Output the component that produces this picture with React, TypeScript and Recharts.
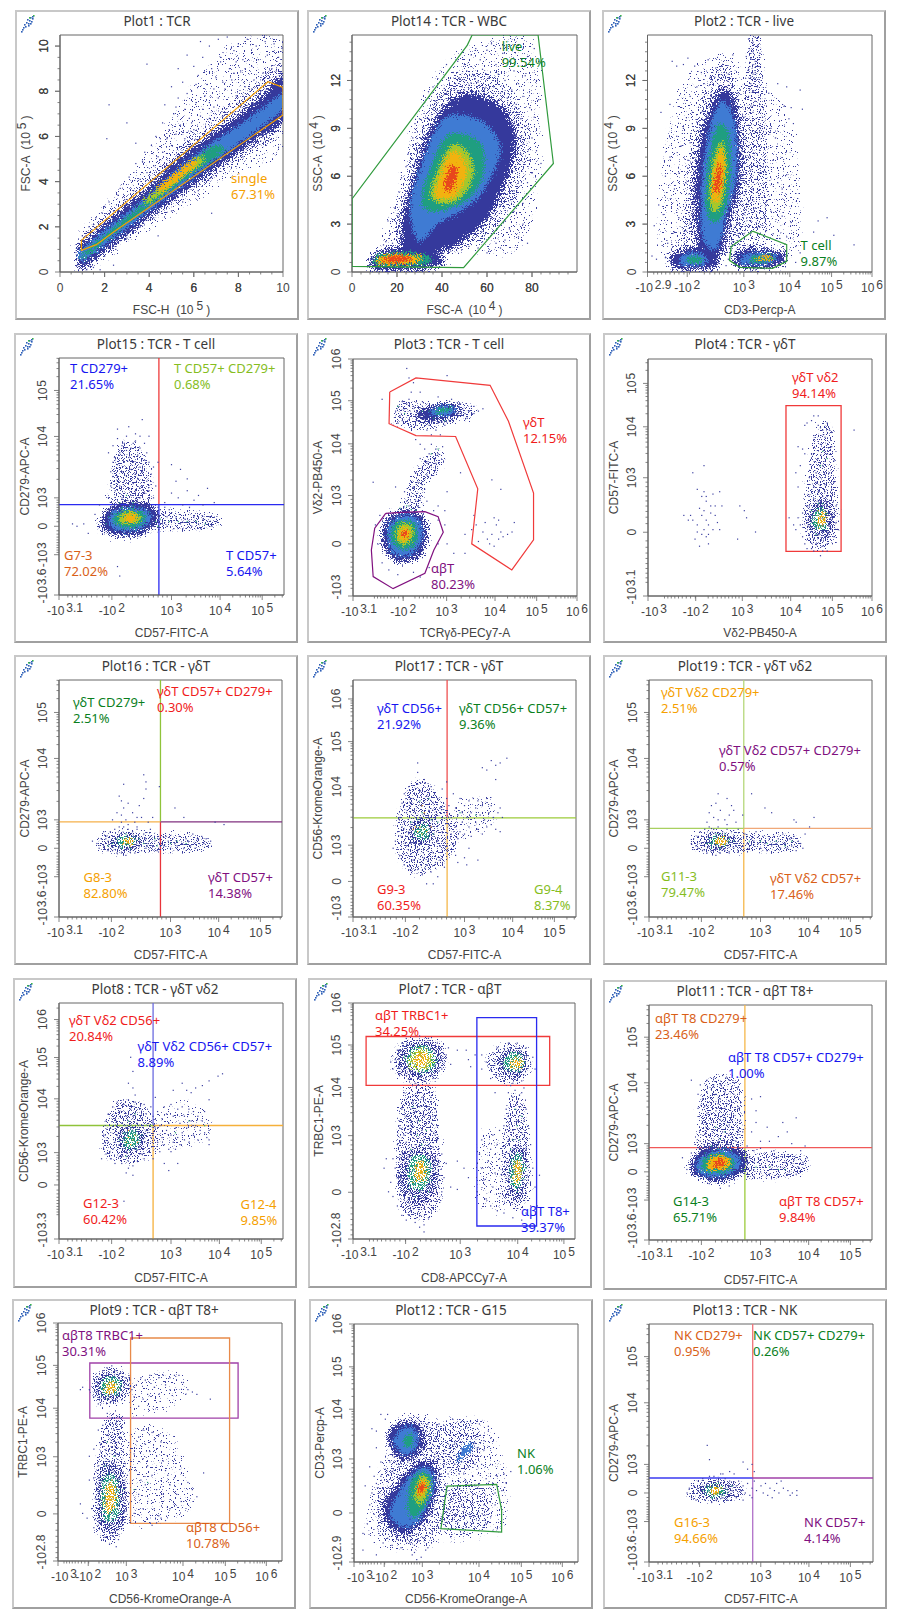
import React from 'react';
import { ScatterChart, Scatter, XAxis, YAxis, ReferenceLine, ReferenceArea } from 'recharts';

// ---- colours of the density scale: dark, blue, teal, yellow-green, amber, red, veil, thin veil
const HEAT = ['#35399c', '#3f7bd3', '#1f9e80', '#a5c72c', '#f2b20f', '#e8481c', '#383c9e', '#383c9e'];
const C = { blue: '#1616f0', green: '#0a7f1e', lime: '#86bd1e', red: '#f01c1c', purple: '#80107f', orange: '#f5a000', rust: '#d95f18' };

// ---- tick labels on channel scales: [channel, base, exponent]
const xCD57 = [[0, '-10', '3.1'], [23.5, '-10', '2'], [50, '10', '3'], [71.6, '10', '4'], [90.3, '10', '5']];
const yCD279 = [[0, '-10', '3.6'], [17, '-10', '3'], [29, '0'], [41, '10', '3'], [66.9, '10', '4'], [86.3, '10', '5']];
const xCD3 = [[0, '-10', '2.9'], [17.7, '-10', '2'], [42.9, '10', '3'], [63.4, '10', '4'], [82, '10', '5'], [100, '10', '6']];
const xTCR = [[0, '-10', '3.1'], [22.4, '-10', '2'], [41.8, '10', '3'], [63.4, '10', '4'], [82, '10', '5'], [100, '10', '6']];
const yVd2 = [[0, '-10', '3'], [22, '0'], [42.4, '10', '3'], [64.2, '10', '4'], [82.4, '10', '5'], [100, '10', '6']];
const xVd2 = [[0, '-10', '3'], [21.3, '-10', '2'], [42.1, '10', '3'], [63.7, '10', '4'], [82.3, '10', '5'], [100, '10', '6']];
const yFITC = [[0, '-10', '3.1'], [26.9, '0'], [49.9, '10', '3'], [71.4, '10', '4'], [89.7, '10', '5']];
const yCD56a = [[0, '-10', '3'], [15, '0'], [30.3, '10', '3'], [55, '10', '4'], [74, '10', '5'], [92, '10', '6']];
const yCD56b = [[0, '-10', '3.3'], [22.9, '0'], [36.6, '10', '3'], [59.4, '10', '4'], [76.9, '10', '5'], [93, '10', '6']];
const xCD8 = [[0, '-10', '3.1'], [23.7, '-10', '2'], [48.3, '10', '3'], [74.2, '10', '4'], [95, '10', '5']];
const yTRBC = [[0, '-10', '2.8'], [19.8, '0'], [43.8, '10', '3'], [64.2, '10', '4'], [82.2, '10', '5'], [100, '10', '6']];
const xCD56 = [[0, '-10', '3'], [13.5, '-10', '2'], [30.5, '10', '3'], [55.8, '10', '4'], [74.7, '10', '5'], [93, '10', '6']];
const yCD3 = [[0, '-10', '2.9'], [20.6, '0'], [43.3, '10', '3'], [64.2, '10', '4'], [82, '10', '5'], [100, '10', '6']];
const lin10 = [[0, '0'], [2, '2'], [4, '4'], [6, '6'], [8, '8'], [10, '10']];
const xFSC = [[0, '0'], [20, '20'], [40, '40'], [60, '60'], [80, '80']];
const ySSC = [[0, '0'], [3, '3'], [6, '6'], [9, '9'], [12, '12']];

// ---- Plot1
const p1Clouds = [
  [7, [.85,0, .85,1.7, 2,3, 3.5,4.7, 5,6.8, 6.5,8.9, 8,10.2, 10,10.45, 10,5.6, 8,4.4, 6,3.1, 4,1.9, 2,.5, 1.2,0]],
  [6, [.85,.1, .85,1.4, 2,2.5, 3.5,3.9, 5,5.3, 6.5,6.6, 8,7.8, 10,9.2, 10,6.4, 8,4.95, 6,3.6, 4,2.2, 2,.75, 1.2,.15]],
  [0, [0.85,0.2, 0.85,1.1, 1.5,1.7, 3,2.95, 4,3.8, 5,4.75, 6,5.55, 7,6.25, 8,6.95, 9,7.75, 10,8.7, 10,6.75, 9,6, 8,5.3, 7,4.6, 6,3.9, 5,3.15, 4,2.45, 3,1.65, 2,.95, 1.2,.35]],
  [1, [.9,.5, .9,.98, 2,1.85, 3,2.6, 4,3.45, 5,4.35, 6,5.15, 7,5.85, 8,6.5, 9,7.2, 10,7.9, 10,7.2, 9,6.4, 8,5.65, 7,4.95, 6,4.2, 5,3.45, 4,2.7, 3,1.95, 2,1.2, 1.2,.58]],
  [2, [.95,.72, 2,1.62, 3,2.42, 4,3.27, 5,4.17, 6,4.97, 7,5.62, 7.3,5.3, 6,4.4, 5,3.65, 4,2.92, 3,2.17, 2,1.4, 1.2,.7]],
  [3, [3.8,3.2, 4.8,4.05, 5.5,4.6, 6.3,5.1, 6.4,4.85, 5.6,4.25, 4.9,3.7, 4,3.1]],
  [4, [4.4,3.72, 5.2,4.4, 5.95,4.9, 6.05,4.7, 5.4,4.15, 4.6,3.6]],
];
const p1Dots = [1,1.6,1.3,2,1.6,2.4,1.9,2.6,2.2,3.1,2.4,2.7,2.7,3.7,2.9,3.2,3.1,4.2,3.3,3.6,3.4,4.8,3.6,4.1,3.8,5.3,3.9,4.4,4.1,5.6,4.2,4.7,4.3,6,4.4,5.1,4.6,6.6,4.6,5.3,4.7,7.4,4.8,5.9,4.9,6.3,5,8.2,5,5.6,5.1,7,5.2,6.1,5.3,9,5.3,7.7,5.4,6.5,5.5,8.4,5.6,5.9,5.6,7.2,5.7,9.6,5.8,6.8,5.9,8,6,9.1,6,6.3,6.1,7.5,6.2,8.7,6.3,10.2,6.3,6.9,6.4,9.5,6.5,7.8,6.6,8.3,6.7,10,6.7,6.8,6.8,9,6.9,7.3,7,8.6,7.1,10.3,7.1,7.7,7.2,9.5,7.3,6.9,7.4,8.1,7.5,10.4,7.6,9,7.6,7.4,7.7,8.5,7.8,9.8,7.9,7.8,8,10.1,8.1,8.9,8.1,7.3,8.2,9.4,8.3,8.2,8.4,10.3,8.5,7.7,8.6,9.1,8.7,8.5,8.8,10,8.9,9.4,9,8,9.1,8.8,9.2,10.2,9.3,9.6,9.4,8.6,9.5,9,9.6,10.1,9.7,8.9,9.8,9.5,9.9,8.8,9.95,9.9,3.9,9.2,2.2,7.4,2.1,5.9,3,6.6,3.4,5.7,1.2,.1,1.5,.2,2,.7,2.5,1,3,1.5,3.6,2,4.2,2.4,5,2.7,5.5,3.1,6.2,3.6,6.8,2.6,6.8,4.2,7.5,4.8,8.2,5.1,9,5.8,9.5,6.3,2.4,.3,1.8,.1,4.4,1.6,7.2,9.3,5.9,6.6,6.4,7.2,5.2,7.3,4.5,5.9,3.7,4.9,2.6,3.4,2,2.9,1.5,2.1,6.9,8.1,7.3,8.4,7.8,8.8,8.3,9,6.1,8.3,5.7,7.9,6.7,7.5,7.9,9.3,8.6,8.1];

// ---- Plot14
const p14Clouds = [
  [7, [14,1.5, 20,5, 30,10.5, 45,13.6, 62,14.6, 80,14.6, 84,8, 80,3.5, 72,1.2, 50,1.2, 32,1]],
  [6, [19,2, 24,6, 33,10, 45,12.3, 58,12.6, 72,11.2, 78,8, 73,4.5, 63,2.5, 50,1.5, 32,1]],
  [0, [22,3, 28,6.3, 36,9.3, 45,10.9, 56,11.1, 69,10, 73,8, 68,5.5, 60,3.3, 50,2, 38,1.2, 24,1.2]],
  [1, [26,4.3, 32,7.2, 40,9.5, 50,9.8, 60,9.2, 66,7.6, 58,5, 48,3.8, 38,3, 32,2, 28,2.2]],
  [2, [31,4.5, 35,6.6, 42,8.5, 50,8.6, 58,7.9, 58,6, 52,4.6, 42,3.9, 35,3.8]],
  [3, [35,4.8, 39,6.7, 45,8, 52,7.4, 54,6, 48,4.6, 41,4.3]],
  [4, [37,5, 42,7.1, 47,7.5, 51,6.3, 46,4.8, 40,4.6]],
  [5, [41,5.4, 44,6.7, 47,6.3, 44,5.1]],
  [0, [10,.15, 9.5,1.1, 20,1.5, 36,1.2, 41,.6, 30,.15]],
  [2, [11,.45, 11.5,1, 22,1.25, 35,.95, 31,.45]],
  [4, [12,.55, 13,.95, 20,1.1, 31,.95, 27,.55]],
  [5, [14,.62, 15,.9, 22,1.02, 27,.85, 22,.62]],
];
const p14Dots = [18,1.8,20,2.6,21,3.5,22,2,23,4.3,24,3,25,5,26,5.8,27,4.2,28,6.9,29,7.6,30,6.2,31,8.3,32,9,33,7.8,34,9.6,35,8.9,36,10.2,37,10.7,38,9.9,39,11,40,10.4,41,11.5,42,11.2,43,12,44,11.4,45,12.5,46,11.8,47,13.2,48,12.1,49,11.6,50,13,51,12.6,52,11.7,53,13.6,54,12.3,55,14,56,11.9,57,13.3,58,12.7,59,11.5,60,13.9,61,12.2,62,14.3,63,11.6,64,13,65,12.4,66,11.2,67,13.7,68,12,69,10.9,70,13.2,71,11.4,72,12.6,73,10.5,74,11.8,75,9.6,76,11,77,12.3,78,9,79,10.3,80,8.4,81,9.7,82,7.6,83,10.8,84,6.8,70,6,72,5.1,74,6.8,76,4.3,78,5.6,80,6.2,66,4.2,68,3.2,70,2.7,72,3.8,74,2.2,76,3,78,1.8,62,2.4,64,1.8,66,1.5,68,2,58,1.9,60,1.2,56,1.5,52,1.6,54,2.6,82,12,83,13.2,81,14,78,13.5,74,14.2,66,14,61,11,76,8,79,7,75,7.4,71,9.2,24,6.6,21,5,19,4,17,2.4,15,1.9,27,8.4,30,9.6,33,10.8,16,3.2,22,5.9,25,7.4,14,1.7,28,9.3,36,11.6,34,11.3,42,13,50,11.4];

// ---- Plot2
const p2Clouds = [
  [7, [6,1, 7,7, 16,11.8, 30,13.6, 42,13, 62,10, 68,5, 66,1.2, 40,1, 20,1]],
  [6, [43,5, 44,13, 46,14.8, 50,14.8, 52,10, 54,4, 48,2]],
  [6, [17,1.5, 17,5, 20,9, 27,12, 35,13, 43,10, 44,5, 40,1.5]],
  [0, [23,1.5, 21,4, 22,7, 27,10, 34,11.5, 40,10.1, 41.5,6, 37,3.5, 33,1.2, 28,1]],
  [1, [25,2, 24,5, 27,8.5, 33,10.7, 39,9.3, 39.5,6, 35,3.5, 31,1.5]],
  [2, [26,4.2, 27,6.8, 31,9.1, 36,8.7, 37,6, 34,3.7, 29,3.1]],
  [3, [27.6,4.4, 29,6.7, 33,8.2, 35.2,6.6, 33,4.3, 30,3.8]],
  [4, [28.6,4.7, 30,6.7, 33,7.8, 34.4,6.6, 32,4.5]],
  [5, [29.6,5.1, 31,6.4, 32.8,6.7, 32.4,5.2]],
  [0, [11,.3, 11,1.1, 20,1.5, 30,1.3, 31,.35, 22,.15]],
  [1, [15,.5, 16,1.1, 24,1.15, 27,.6, 22,.4]],
  [2, [18,.6, 18,.95, 24,.95, 24,.6]],
  [0, [40,.35, 39,1.1, 45,1.45, 58,1.3, 62,.9, 58,.4, 50,.22]],
  [1, [42,.55, 43,1.05, 52,1.2, 58,.9, 53,.5]],
  [2, [46,.65, 46,.95, 54,1.05, 56,.8, 52,.6]],
  [4, [49,.75, 50,.95, 54,1, 55,.8]],
];
const p2Dots = [45,14.6,47,14.4,48,14.7,49,14.2,47,13.8,46,13.4,48,13.2,49,12.9,45,12.7,47,12.4,48,12.1,46,11.8,49,11.6,47,11.3,45,11,48,10.7,46,10.4,47,13,48,12.5,46,12.2,44,13.5,50,13.7,47,10,43,9.7,45,9.2,48,8.8,44,8.4,47,8,42,7.6,45,7.2,43,6.8,46,6.4,42,6,44,5.6,47,5.2,43,4.8,45,4.4,48,4,43,3.6,46,3.2,50,2.8,53,2.6,56,2.4,59,2.1,41,3,43,2.4,48,5.8,52,7,50,6.2,55,9,57,8.4,58,5.6,60,5.2,62,6.1,56,7,53,4.4,52,3.4,55,3.8,60,3.5,62,2.2,63,9.6,64,10.3,61,10.4,54,11.2,58,11.8,62,11.6,68,11.4,69,10.2,65,9.3,18,7,17,5.6,16,9,15,7.9,14,6.2,13,8.5,12,5.2,10,7.2,8,6,7,3.6,6,10,20,10,19,11,22,11.6,24,12.5,21,12.9,27,13.3,18,13.4,13,12.9,11,13.2,16,13,10,10.5,5,4.2,3,2.9,2,1,4,.8,8,.9,9,1.8,12,2.5,14,3.4,17,2.6,19,3,21,2.3,20,9.3,19,8.1,25,11.8,30,12.2,33,12.9,36,12.4,38,13.6,28,12.2,40,11.2,80,3.4,83,2.3,92,1.7,76,3.2,74,2.5,64,3.1,66,1.6,68,1.2,66,.6,35,2.4,38,1.9,37,1.3,36,.8,35,.4];

// ---- Plot15
const p15Clouds = [
  [6, [24,36, 23,50, 27,64, 36,62, 41,50, 39,37]],
  [6, [24,36, 25,46, 30,52, 37,50, 40,42, 39,36]],
  [6, [42,28, 42,35, 60,35, 71,33, 70,29, 58,27]],
  [0, [20,27, 19,32, 24,37.5, 33,39, 41,38, 44,33, 40,27, 30,25]],
  [1, [23,29, 23,34, 30,37, 38,36, 41,32, 36,28, 28,27]],
  [2, [25,30, 25,34, 32,36, 38,34, 37,30, 31,28.5]],
  [3, [27,30.6, 28,34.2, 33,35, 36.4,32.5, 33,30]],
  [4, [29,31.2, 30,33.9, 33,34.2, 34.6,32, 32,30.8]],
];
const p15Dots = [26,38,28,41,25,44,30,39,32,42,27,46,34,44,29,48,36,41,31,45,38,43,33,47,24,50,35,49,28,52,37,46,30,50,39,48,26,55,32,53,34,51,36,54,40,44,29,56,25,58,31,58,27,60,33,56,35,59,38,57,37,52,41,51,30,61,23,52,23,46,22,41,24,56,28,63,32,62,34,65,36,62,26,66,30,67,33,64,39,60,26,70,29,64,36,67,31,71,34,68,38,64,24,63,22,60,40,56,42,54,43,46,42,41,28,35,47,39,50,43,53,41,49,36,55,38,57,44,60,40,52,48,58,37,62,42,66,45,64,38,69,39,57,49,54,53,50,55,37,74,40,67,44,56,46,34,48,33,50,31,52,33,54,30,56,32,58,31,60,33,62,30,64,32,66,31,68,29,70,31,46,30,48,29,51,28,55,28,59,29,63,28,67,33,18,29,16,34,13,26,8,29,6,30,11,30,18,38,26,12,27,8,35,36,42,37,44,37,45,36,47,37];
const p15Mid = [45,32,49,31,53,31,57,31,61,31,65,30,28,37,33,37.5,36,37,40,35,21,30,22,33,43,31,44,29,30,42,33,39,27,39];

// ---- Plot3
const p3Clouds = [
  [6, [18,75, 22,82, 32,81, 44,81, 54,80, 52,75, 40,72, 28,70]],
  [0, [28,77, 34,80, 44,81, 48,78, 42,75, 32,74]],
  [1, [34,77, 38,80, 44,80, 46,78, 40,76]],
  [2, [36,77.5, 40,79.5, 44,79.5, 42,77.5]],
  [6, [22,36, 24,44, 30,56, 38,62, 40,56, 32,46, 30,36]],
  [0, [13.5,22, 14,31, 20,35.5, 29,35, 33,28, 31,18, 24,14.5, 17,16]],
  [1, [15.5,23, 16,30, 21,33.5, 28,33, 31,27, 29,20, 24,17, 18,18]],
  [2, [17,25, 18,30, 22,32, 27,31, 29,26, 27,21, 23,19.5, 19,21]],
  [3, [19,25, 20,29, 23,30.5, 26,29.5, 27,26, 25,22.5, 22,21.5]],
  [4, [20.5,25.5, 21.5,28.5, 24,29, 25.5,27, 24.5,23.5, 22,23]],
  [5, [21.8,25.5, 23,27.5, 24.5,26.5, 23.5,24.5]],
];
const p3Dots = [20,80,22,82,24,81,19,78,21,76,23,79,25,83,26,77,27,80,29,74,28,72,30,76,31,82,33,70,32,75,34,72,35,68,36,74,37,70,38,73,39,68,41,72,40,75,43,74,45,78,47,76,49,79,50,77,52,78,54,77,56,78,58,79,54,80,51,75,48,81,44,83,38,84,30,86,26,86,25,92,24,96,27,90,42,93,13,83,18,72,20,73,22,74,28,66,30,64,32,62,34,60,36,58,37,62,38,60,40,63,35,64,33,56,35,55,37,56,30,58,31,54,33,51,28,52,29,48,31,47,27,46,32,45,26,42,28,40,30,42,24,40,25,38,27,37,29,38,31,36,23,44,19,46,9,48,22,36,33,40,38,38,42,44,48,52,41,36,41,30,38,32,36,36,38,22,42,22,45,18,30,8,27,10,20,9,16,11,13,14,11,22,10,30,12,34,50,18,34,12,54,34,62,49,66,45,50,26,53,28,55,30,58,27,60,24,61,22,62,26,63,21,64,30,65,24,66,27,67,25,69,26,71,27,72,31,59,31,63,33,65,32,56,23];
const p3Mid = [24,38,26,36.5,21,37,28,36,34,78,36,75,41,74,43,79,31,78,20,80,23,77,38,62,35,60];

// ---- Plot4
const p4Clouds = [
  [6, [70,24, 70,38, 72,56, 76,72, 82,70, 84,46, 84,24, 78,20]],
  [0, [72,27, 72,36, 76,41, 81,40, 83,33, 81,25, 77,24]],
  [2, [74,29, 74,35, 78,37, 80,33, 79,28]],
  [4, [76,30, 76,34, 79,35, 79,30]],
];
const p4Dots = [66,28,67,33,68,30,69,25,69,35,70,22,71,31,71,38,72,26,72,42,73,20,73,34,74,46,74,24,75,36,75,52,75,22,76,40,76,58,76,26,77,47,77,64,78,21,78,55,78,30,79,44,79,67,79,25,80,60,80,38,80,22,81,52,81,70,81,27,82,45,82,63,82,34,83,25,83,48,84,31,84,38,85,28,67,46,68,55,69,62,70,60,70,72,71,73,72,50,73,60,74,66,73,74,74,76,76,72,77,71,78,70,80,73,82,69,76,76,66,52,67,63,65,30,63,33,83,57,77,17,78,19,80,19,74,19,71,20,75,36,77,38,79,36,77,33,75,29,81,31,73,29,72,38,80,42,76,44,78,42,74,41,79,47,77,50,75,48,92,70,20,32,22,30,24,34,26,32,27,30,25,36,23,37,28,35,29,28,25,28,22,27,21,24,24,26,26,25,27,26,19,34,18,32,30,34,30,38,28,38,26,40,24,42,25,44,26,42,29,43,31,31,32,28,33,38,32,44,25,55,20,52,22,45,41,38,43,36,44,33,40,24,48,27,23,21,27,22,16,34];
const p4Mid = [74,31,76,34,78,33,80,35,77,29,75,26,79,29,76,39,78,39,73,36,77,55,78,61,80,58];
const p4Hot = [76,31,78,30,77,33,79,32,76,36,78,35];

// ---- Plot16
const p16Clouds = [
  [6, [17,30, 19,35, 30,36, 44,35, 46,30, 40,27, 24,27]],
  [6, [44,28, 44,34, 56,35, 67,33, 66,29, 54,27]],
  [0, [23,30, 24,34, 32,35, 37,33, 36,29.5, 30,28.5]],
  [2, [26,30.5, 28,33.5, 33,33.5, 34,31, 31,29.5]],
  [4, [29,30.8, 30,32.8, 33,32.8, 33,31]],
];
const p16Dots = [17,31,18,29,19,33,20,30,21,34,22,28,22,32,23,36,24,28,25,37,26,27,27,38,28,27,29,38,30,26,31,37,32,28,33,36,34,27,35,37,36,30,37,28,38,35,39,33,39,29,40,31,41,34,42,30,43,32,44,28,45,33,46,31,47,30,48,34,49,32,50,29,51,33,52,31,53,30,54,34,55,31,56,29,57,33,58,32,59,30,60,35,61,29,62,33,63,31,64,34,65,31,66,33,67,30,68,32,24,41,26,44,28,43,29,46,31,48,33,44,35,42,36,47,38,50,39,57,38,60,39,54,29,56,28,49,27,51,30,41,34,40,37,42,40,40,41,37,42,42,45,55,52,46,56,42,70,40,74,39,31,39,28,40,35,38,21,33,20,36,15,32];
const p16Mid = [24,31,26,33,28,29,30,35,34,33,36,33,38,31,44,30,50,31,53,32,57,31,22,30,43,33,32,29];
const p16Hot = [29,31,31,32,32,30,30,33,33,32];

// ---- Plot17
const p17Clouds = [
  [6, [20,28, 20,42, 26,56, 34,56, 42,46, 47,34, 40,22, 30,18, 24,20]],
  [7, [44,34, 46,48, 60,50, 64,44, 58,36, 50,33]],
  [0, [25,33, 26,39, 31,42, 36,40, 36,33, 32,30, 28,30]],
  [2, [28,34, 29,38, 33,38.5, 34,34, 31,32.5]],
];
const p17Dots = [20,36,19,32,18,29,21,42,21,26,22,48,22,34,23,52,23,22,24,44,24,30,25,55,25,20,26,48,26,38,27,24,27,50,28,44,28,20,29,56,29,28,30,53,30,42,31,18,31,47,32,25,32,58,33,22,33,51,34,45,34,29,35,55,35,19,36,48,36,27,37,42,37,23,38,50,38,32,39,46,39,24,40,54,40,36,41,44,41,21,42,50,42,30,43,39,43,47,44,42,44,35,45,52,45,31,46,46,46,38,47,43,47,33,48,50,48,36,49,44,49,40,50,47,50,35,51,42,52,49,52,38,53,44,53,34,54,50,55,40,55,46,56,37,56,49,57,43,58,35,58,47,59,41,60,50,60,38,61,44,62,39,62,47,63,42,64,37,65,44,66,36,66,46,67,42,50,25,52,29,51,22,46,26,47,23,29,65,29,61,42,57,58,63,60,62,62,66,64,64,66,65,69,67,64,58,56,24,23,40,24,36,22,38,33,14,38,17,36,14];
const p17Mid = [26,40,28,36,30,37,32,40,33,34,34,37,35,41,27,33,31,44,36,35,29,41,34,50,30,49,38,40,48,44,55,43];
const p17Hot = [29,36,31,35,32,37,30,38,33,36,28,38,27,37,35,38,32,44,31,47];

// ---- Plot19
const p19Clouds = [
  [6, [19,30, 21,35, 32,36, 46,35, 48,30, 42,27, 26,27]],
  [6, [46,28, 46,34, 58,35, 67,34, 66,29, 56,27]],
  [0, [25,30, 26,34.5, 33,35, 39,33, 38,29.5, 31,28.5]],
  [2, [28,30.5, 29,33.5, 34,34, 36,31.5, 33,29.5]],
  [4, [29.5,30.8, 30,33, 34,33.5, 35,31.5, 32,30.5]],
];
const p19Dots = [19,31,20,33,21,30,22,29,22,34,23,36,24,28,25,37,26,27,27,38,28,28,29,37,30,26,31,38,32,27,33,36,34,28,35,37,36,27,37,36,38,29,38,34,39,31,40,28,41,33,42,30,43,35,44,31,45,29,46,33,47,32,48,36,49,31,50,29,51,34,52,31,53,28,54,33,55,30,56,34,57,31,58,33,59,29,60,35,61,31,62,29,63,33,64,30,65,34,66,28,67,32,68,31,69,29,70,35,72,38,27,44,26,40,29,42,31,41,28,47,30,48,31,52,32,45,35,39,36,43,38,45,37,47,35,50,34,41,39,40,42,43,45,66,46,52,52,46,55,44,74,42,66,40,65,41,30,30,40,37];
const p19Mid = [26,31,27,33,28,29,30,35,34,35,36,33,38,32,45,32,50,32,53,31,57,32,61,30,64,32];
const p19Hot = [30,31,31,33,33,32,34,31,35,32,32,30];

// ---- Plot8
const p8Clouds = [
  [6, [20,36, 20,48, 27,58, 37,57, 44,46, 42,36, 33,32, 25,33]],
  [7, [42,40, 44,52, 56,58, 66,54, 68,44, 58,40, 50,38]],
  [0, [27,38, 27,46, 33,48, 38,45, 37,38, 32,36]],
  [2, [29,39, 30,45, 34,46, 36,42, 33,38.5]],
];
const p8Dots = [19,34,20,38,20,44,21,50,21,36,22,53,22,41,23,34,23,47,24,56,24,38,25,32,25,51,26,44,26,58,27,35,27,54,28,49,28,32,29,42,29,57,30,37,30,52,31,33,31,59,32,47,32,55,33,31,33,52,34,38,34,58,35,49,35,33,36,55,36,43,37,36,37,51,38,57,38,34,39,46,39,53,40,37,40,49,41,56,41,43,42,34,42,52,43,47,43,60,44,41,44,54,45,48,45,37,46,51,46,43,47,56,47,40,48,46,48,53,49,38,49,49,50,44,50,57,51,41,51,52,52,47,52,38,53,55,53,43,54,49,54,40,55,56,55,45,56,52,56,42,57,47,58,55,58,41,59,50,60,44,60,54,61,48,62,42,62,52,63,46,64,50,65,45,66,43,65,54,67,46,67,42,67,40,59,62,61,64,64,65,67,67,71,69,73,70,67,59,55,66,57,63,51,63,47,32,49,29,53,32,50,37,32,77,33,71,31,66,33,64,34,61,29,16,31,30,30,28,33,27,28,35,25,41,36,39,35,41,36,36];
const p8Mid = [29,45,31,41,33,40,32,43,35,44,27,42,31,50,37,44,30,35,34,53,52,45,58,50,65,48];
const p8Hot = [31,43,33,42,34,44,32,40,30,41,31,46,35,41];

// ---- Plot7
const p7Clouds = [
  [6, [18,74, 20,82, 30,85, 40,83, 42,76, 38,68, 28,66, 21,68]],
  [0, [20,74, 22,81, 30,84, 39,82, 41,76, 37,70, 29,68, 23,70]],
  [2, [24,75, 26,80, 32,82, 37,78, 36,72, 29,71]],
  [3, [25,75, 28,80, 33,80, 36,76, 33,72, 28,72]],
  [4, [27,75, 30,79, 33,78, 34,75, 31,73]],
  [6, [60,74, 63,80, 73,83, 79,78, 79,70, 72,66, 64,68]],
  [0, [65,72, 67,79, 73,81, 78,77, 78,71, 73,68]],
  [2, [68,73, 70,78, 74,79, 77,75, 75,71]],
  [4, [71,73, 73,77, 76,75, 74,72]],
  [6, [20,24, 20,50, 24,64, 36,64, 38,50, 40,24, 36,10, 24,10]],
  [6, [20,20, 22,36, 26,62, 34,62, 37,36, 38,20, 32,12, 24,12]],
  [0, [21,22, 22,36, 32,38, 38,34, 38,22, 31,14, 25,15]],
  [2, [25,24, 26,34, 33,35, 35,28, 32,21, 27,21]],
  [4, [28,26, 29,32, 32,32, 33,27, 30,24]],
  [6, [67,22, 68,46, 71,60, 76,60, 79,44, 80,22, 76,13, 70,14]],
  [6, [69,20, 70,46, 72,56, 76,56, 78,40, 78,20, 74,14]],
  [0, [70,22, 70,35, 74,40, 78,36, 77,22, 74,16]],
  [2, [71,24, 72,34, 75,36, 77,30, 75,22]],
  [4, [73,24, 73,32, 75,33, 76,27, 74,23]],
  [7, [56,16, 56,38, 60,46, 68,40, 68,14, 60,12]],
];
const p7Dots = [18,72,19,76,20,80,21,70,22,83,24,85,26,68,28,66,30,86,32,67,34,85,36,68,38,83,40,72,42,78,44,74,43,81,17,75,47,80,51,80,55,78,52,76,58,78,60,75,62,72,63,79,64,76,65,81,66,69,68,67,70,83,72,66,74,83,76,67,78,81,80,74,82,72,81,77,62,68,58,72,53,73,23,62,25,60,27,58,29,62,31,60,33,63,35,58,22,55,24,52,26,55,28,54,30,56,32,52,34,55,36,52,38,48,21,47,23,44,25,48,27,43,29,50,31,46,33,49,35,46,37,44,20,40,22,37,24,41,26,45,28,40,30,44,32,42,34,40,36,39,38,42,18,34,19,30,20,26,17,24,16,20,18,18,20,14,22,10,24,8,26,12,28,7,30,10,32,6,34,9,36,13,38,16,40,20,41,26,42,32,40,36,30,5,32,3,14,30,15,34,37,55,35,60,47,33,50,30,44,22,47,21,52,26,56,20,58,30,57,36,59,25,60,17,61,33,62,14,62,38,63,22,64,28,65,12,65,40,66,18,66,34,68,48,69,55,70,62,72,60,74,58,76,62,78,55,79,48,80,40,81,30,82,22,80,14,78,11,76,8,72,9,68,11,70,52,72,46,74,50,76,45,77,50,70,42,78,38,67,27,63,44,58,42,66,46,79,25,84,27,83,14,75,61,77,64,73,63,71,65,64,62];
const p7Mid = [26,78,28,74,30,81,34,79,36,74,30,70,23,77,38,76,68,75,71,79,76,73,27,56,30,50,33,46,29,44,31,40,26,38,28,18,34,20,73,55,74,48,72,42,76,52,75,42,71,38,74,20,78,30];
const p7Hot = [29,77,31,75,32,78,28,76,71,75,74,75,28,30,30,27,31,33,27,24,33,25,74,27,73,30,75,25,74,33,72,26];

// ---- Plot11
const p11Clouds = [
  [6, [23,38, 22,50, 26,68, 40,68, 42,52, 40,38]],
  [6, [24,38, 25,48, 30,58, 38,56, 40,46, 39,38]],
  [6, [43,27, 43,36, 58,37, 70,35, 70,29, 58,26]],
  [0, [20,28, 19,33, 24,39, 33,40, 42,38, 44,33, 40,27, 30,25]],
  [1, [22,29, 22,34, 30,38, 38,37, 41,32, 36,28, 28,27]],
  [2, [24,30, 25,35, 32,37, 38,34, 37,30, 31,28.5]],
  [4, [26,30.5, 28,35, 33,36, 37,33, 33,30]],
  [5, [29,31.5, 30,33.5, 33,34.5, 34,32.5, 32,31]],
];
const p11Dots = [23,42,25,45,27,40,29,47,31,42,33,46,35,41,37,45,39,42,24,50,26,54,28,50,30,55,32,51,34,56,36,49,38,53,40,47,22,56,24,60,26,63,28,58,30,62,32,60,34,63,36,59,38,62,40,56,41,51,23,66,26,68,29,69,32,66,35,69,38,67,40,65,33,70,36,68,19,68,22,62,25,57,29,66,31,58,33,53,35,58,37,51,39,59,42,46,44,40,46,46,48,50,50,42,53,48,56,38,58,44,62,46,64,41,66,52,50,61,46,60,48,55,60,50,47,38,50,39,54,42,45,35,47,33,49,35,51,31,53,34,55,32,57,35,59,31,61,33,63,29,65,34,67,31,69,33,71,35,47,27,50,29,54,28,58,27,62,28,66,28,44,30,68,38,70,40,19,37,15,35,17,30,27,24,32,22,36,23];
const p11Mid = [25,37,28,40,31,39,34,39,37,38,41,35,32,43,30,48,34,46,48,31,54,31,58,30,61,30,22,31,23,29,42,30];
const p11Hot = [27,33,29,35,31,32,35,33,34,35,28,31];

// ---- Plot9
const p9Clouds = [
  [6, [15,72, 17,79, 25,81, 32,77, 31,69, 24,65, 18,66]],
  [0, [17,72, 19,78, 25,79, 30,76, 29,70, 24,67, 19,68]],
  [2, [19,72, 21,77, 26,77, 28,74, 26,70, 21,70]],
  [4, [21,72, 23,75, 26,75, 26,72, 23,70]],
  [7, [33,62, 32,76, 52,79, 58,72, 50,64, 40,62]],
  [6, [16,18, 17,40, 21,60, 29,60, 30,40, 31,18, 26,9, 20,9]],
  [0, [18,16, 18,36, 23,42, 29,36, 30,18, 25,12]],
  [2, [20,20, 20,34, 25,36, 27,30, 27,20, 23,16]],
  [4, [21,22, 22,32, 25,32, 26,26, 24,21]],
  [7, [32,18, 33,54, 50,53, 58,36, 60,22, 45,16]],
];
const p9Dots = [14,72,16,69,17,75,18,66,20,80,22,81,24,82,26,80,28,79,30,77,32,76,33,72,34,69,35,74,37,77,39,76,41,78,43,73,45,77,47,78,48,74,50,77,52,78,50,72,45,70,40,70,36,65,38,68,54,78,56,75,57,70,58,72,60,71,62,70,68,68,11,73,10,72,22,62,24,60,20,57,26,58,18,55,22,53,25,55,28,52,19,49,24,48,27,50,16,47,29,46,21,44,26,45,14,44,23,42,30,41,18,40,28,38,16,35,24,38,20,36,31,36,14,34,26,30,19,30,30,27,17,26,22,25,29,23,15,22,24,20,28,17,18,15,25,12,21,10,27,9,23,7,26,6,10,24,11,20,13,18,16,14,36,52,38,55,39,49,42,54,41,46,43,51,45,53,44,44,46,50,47,42,48,38,49,36,38,43,40,40,34,45,35,38,37,34,39,32,42,36,44,30,47,28,50,32,52,35,53,28,55,25,58,33,60,30,62,27,65,37,40,25,43,22,45,19,48,17,50,22,36,28,38,22,34,20,42,15,44,16,46,18];
const p9Mid = [20,74,24,76,27,72,22,68,22,50,25,44,21,40,27,34,19,26,23,18,29,30,20,32,26,22,34,30,40,33];
const p9Hot = [22,73,24,74,25,72,23,75,22,30,23,26,24,34,25,28,22,24,24,22];

// ---- Plot12
const p12Clouds = [
  [7, [6,12, 8,30, 15,50, 22,62, 40,60, 60,58, 68,36, 66,14, 40,8, 20,4]],
  [6, [10,18, 12,34, 22,44, 34,44, 40,34, 38,14, 28,8, 16,10]],
  [6, [32,45, 32,56, 48,59, 56,55, 56,44, 50,38, 42,38]],
  [0, [13,21, 15,27, 21,35, 29,41.5, 36,41, 37,32, 33,20, 26,13, 18,13]],
  [1, [16,21, 20,29, 26,37, 33,40, 36,33, 32,22, 26,15, 19,16]],
  [2, [24,24, 25,33, 30,38, 34.5,35, 33,26, 28,19, 25,20]],
  [3, [27,27, 28,33, 31,36.5, 33.5,33, 32,27, 29.5,24]],
  [4, [28,28.5, 29,33, 31,35, 32.5,32, 31,28]],
  [5, [28.8,29.5, 29.5,32.5, 31,33.5, 31.5,31, 30,29]],
  [0, [15,51, 17,56.5, 24,59, 30,57, 31,49, 27,44, 20,44]],
  [1, [18,50, 20,55, 25,57, 28,54, 28,48, 23,45]],
  [2, [22,49, 23,53, 26,53, 26,49]],
  [6, [32,54, 35,56, 45,56.5, 53,55, 52,50, 47,49, 41,49, 34,50]],
  [1, [46,42, 48,47, 52,50, 53,48, 49,44]],
  [6, [40,16, 42,30, 52,34, 60,28, 60,16, 50,14]],
  [6, [46,22, 46,28, 52,29, 55,26, 52,21]],
];
const p12Dots = [4,12,6,16,7,24,9,20,8,29,10,33,11,27,12,36,13,31,14,39,15,34,16,42,17,38,18,44,19,41,21,46,20,40,22,43,24,42,26,44,7,40,9,36,5,32,13,8,15,10,17,7,19,11,21,6,23,9,25,8,27,7,29,9,31,10,33,6,27,4,26,3,28,1,30,2,32,5,35,13,37,15,39,18,40,24,41,32,39,37,42,37,44,34,47,37,50,34,53,36,56,33,59,35,62,33,64,36,66,30,68,33,67,37,70,38,63,29,63,24,45,41,48,42,51,40,54,41,57,41,55,47,58,47,54,50,58,51,60,57,60,55,56,58,52,59,48,59,44,60,38,58,33,58,30,59,27,57,34,47,36,44,38,48,40,43,40,40,43,44,43,48,45,50,36,52,38,55,49,37,14,60,12,62,10,55,18,46,12,42,10,48,8,56,15,62,27,14,25,18,40,24,35,26,45,28,55,20,50,16,45,20,58,24,61,19,64,14,62,13,44,18,42,22,48,30,48,24,52,20,54,32,47,28,59,16,43,26,44,30,41,21,52,19,4,5,10,3,14,18,60,33,60,22,61,52,60];

// ---- Plot13
const p13Clouds = [
  [6, [18,27, 19,33, 30,35, 40,33, 42,28, 34,25.5, 24,25.5]],
  [0, [23,28, 23,32, 30,33.5, 37,32, 37,28, 30,26.5]],
  [2, [25,28.5, 26,31.5, 32,32, 34,29.5, 30,27.5]],
  [4, [27,29, 29,31.5, 32,31, 31,28.5]],
];
const p13Dots = [17,29,18,31,19,27,20,32,21,26,22,30,22,34,24,35,25,26,26,33,27,36,28,25,29,36,30,26,31,34,32,37,33,27,34,35,35,26,36,34,37,30,38,28,39,32,39,27,40,34,41,30,42,26,42,32,43,29,44,33,45,28,46,31,46,27,47,34,48,30,50,32,51,29,52,33,53,28,54,31,55,27,56,30,57,33,58,29,59,34,60,31,62,30,63,28,64,29,66,30,66,28,26,49,27,43,42,42,44,39,33,37,36,38,38,37,46,41,47,38];
const p13Mid = [24,30,26,32,28,27,30,33,33,30,35,29,37,32,29,28];
const p13Hot = [28,30,30,31,31,29,29,29];

// ---- gates (closed polygons and rectangles)
const p1Gate = [.96,1.4, 9.33,8.42, 10,8.17, 10,6.95, 2.45,1.8, 1.63,1.21, .96,.96];
const p14Gate = [0,.35, 49.6,.27, 89.5,6.8, 82.7,14.85, 53.4,14.85, 51.2,14.2, 0,4.58];
const p2Gate = [46.8,2.56, 62,1.71, 62,.67, 55.7,.23, 41.2,.29, 36.5,.73, 37.3,1.6];
const p3GateA = [16.4,86.1, 28.1,92, 61.2,88.9, 69.4,73.7, 80.6,43.4, 80.6,23.7, 70.9,11, 53,22, 55.7,45.2, 45.8,67.3, 28.1,67.7, 16.1,72.7];
const p3GateB = [14.6,34.9, 21.6,35.3, 32.1,35.6, 38,33.5, 40.3,26.9, 36.1,19.4, 32.1,9.6, 17.9,3.1, 9,8.2, 8.2,19.4, 9.7,28.6];
const p12Gate = [41.5,31.9, 63.7,32.6, 65.9,21.8, 65.9,12.6, 38.8,14];

const panels: any[] = [
  { title: 'Plot1 : TCR', f: [15, 10], p: [45, 25, 223, 237], xt: ['FSC-H  (10', '5', ')'], yt: ['FSC-A  (10', '5', ')'], xa: lin10, ya: lin10, xd: [0, 10], yd: [0, 10.49], xm: .5, ym: .5, clouds: p1Clouds, dots: p1Dots, polys: [[p1Gate, C.orange]], labs: [['single', '67.31%', C.orange, 231, 183]] },
  { title: 'Plot14 : TCR - WBC', f: [307, 10], p: [45, 25, 225, 237], xt: ['FSC-A  (10', '4', ')'], yt: ['SSC-A  (10', '4', ')'], xa: xFSC, ya: ySSC, xd: [0, 100], yd: [0, 14.85], xm: 4, ym: .6, clouds: p14Clouds, dots: p14Dots, polys: [[p14Gate, '#2f9a3c']], labs: [['live', '99.54%', C.green, 501.7, 51]] },
  { title: 'Plot2 : TCR - live', f: [602, 10], p: [45.5, 25, 224.5, 237], xt: ['CD3-Percp-A'], yt: ['SSC-A  (10', '4', ')'], xa: xCD3, ya: ySSC, xz: 22, xd: [0, 100], yd: [0, 14.85], ym: .6, clouds: p2Clouds, dots: p2Dots, polys: [[p2Gate, '#2f9a3c']], labs: [['T cell', '9.87%', C.green, 800.6, 250]] },
  { title: 'Plot15 : TCR - T cell', f: [14, 333], p: [45, 25, 225, 237], xt: ['CD57-FITC-A'], yt: ['CD279-APC-A'], xa: xCD57, ya: yCD279, xz: 26, yz: 29, clouds: p15Clouds, dots: p15Dots, mid: p15Mid, quad: [44.4, 38.1, '#ee3a3a', '#2a2af0', '#2a2af0', '#2a2af0'], labs: [['T CD279+', '21.65%', C.blue, 70, 373], ['T CD57+ CD279+', '0.68%', C.lime, 174, 373], ['G7-3', '72.02%', C.rust, 64, 560], ['T CD57+', '5.64%', C.blue, 226, 560]] },
  { title: 'Plot3 : TCR - T cell', f: [307, 333], p: [46, 26, 224, 237], xt: ['TCRγδ-PECy7-A'], yt: ['Vδ2-PB450-A'], xa: xTCR, ya: yVd2, xz: 25, yz: 22, clouds: p3Clouds, dots: p3Dots, mid: p3Mid, polys: [[p3GateA, '#f03a3a'], [p3GateB, C.purple]], labs: [['γδT', '12.15%', C.red, 523, 427], ['αβT', '80.23%', C.purple, 431, 573]] },
  { title: 'Plot4 : TCR - γδT', f: [603, 333], p: [45, 26, 224, 237], grain: true, xt: ['Vδ2-PB450-A'], yt: ['CD57-FITC-A'], xa: xVd2, ya: yFITC, xz: 24, yz: 26.9, clouds: p4Clouds, dots: p4Dots, mid: p4Mid, hot: p4Hot, rects: [[61.6, 86.2, 18.8, 80.3, '#f03a3a']], labs: [['γδT νδ2', '94.14%', C.red, 792, 382]] },
  { title: 'Plot16 : TCR - γδT', f: [14, 655], p: [45, 25, 223, 237], grain: true, xt: ['CD57-FITC-A'], yt: ['CD279-APC-A'], xa: xCD57, ya: yCD279, xz: 26, yz: 29, clouds: p16Clouds, dots: p16Dots, mid: p16Mid, hot: p16Hot, quad: [45.5, 40.1, '#8fc33a', '#e8343a', '#f5b04a', '#80307f'], labs: [['γδT CD279+', '2.51%', C.green, 73, 707], ['γδT CD57+ CD279+', '0.30%', C.red, 157, 696], ['G8-3', '82.80%', C.orange, 83.5, 882], ['γδT CD57+', '14.38%', C.purple, 208, 882]] },
  { title: 'Plot17 : TCR - γδT', f: [307, 655], p: [46, 25, 223, 237], grain: true, xt: ['CD57-FITC-A'], yt: ['CD56-KromeOrange-A'], xa: xCD57, ya: yCD56a, xz: 26, yz: 15, clouds: p17Clouds, dots: p17Dots, mid: p17Mid, hot: p17Hot, quad: [42.2, 41.8, '#ee5050', '#f5b74a', '#9ccb3a', '#9ccb3a'], labs: [['γδT CD56+', '21.92%', C.blue, 377, 713], ['γδT CD56+ CD57+', '9.36%', C.green, 459, 713], ['G9-3', '60.35%', C.red, 377, 894], ['G9-4', '8.37%', C.lime, 534, 894]] },
  { title: 'Plot19 : TCR - γδT νδ2', f: [603, 655], p: [46, 25, 223, 237], grain: true, xt: ['CD57-FITC-A'], yt: ['CD279-APC-A'], xa: xCD57, ya: yCD279, xz: 26, yz: 29, clouds: p19Clouds, dots: p19Dots, mid: p19Mid, hot: p19Hot, quad: [42.5, 37.4, '#b5d77a', '#f5b74a', '#a8d060', '#f0a878'], labs: [['γδT Vδ2 CD279+', '2.51%', C.orange, 661, 697], ['γδT Vδ2 CD57+ CD279+', '0.57%', C.purple, 719, 755], ['G11-3', '79.47%', C.lime, 661, 881], ['γδT Vδ2 CD57+', '17.46%', C.rust, 770, 883]] },
  { title: 'Plot8 : TCR - γδT νδ2', f: [13, 978], p: [46, 25, 224, 236], grain: true, xt: ['CD57-FITC-A'], yt: ['CD56-KromeOrange-A'], xa: xCD57, ya: yCD56b, xz: 26, yz: 22.9, clouds: p8Clouds, dots: p8Dots, mid: p8Mid, hot: p8Hot, quad: [42, 48.1, '#6a6ae0', '#f5b03a', '#8fc33a', '#f5b03a'], labs: [['γδT Vδ2 CD56+', '20.84%', C.red, 69, 1025], ['γδT Vδ2 CD56+ CD57+', '8.89%', C.blue, 137.6, 1051], ['G12-3', '60.42%', C.red, 83, 1208], ['G12-4', '9.85%', C.orange, 240.6, 1209]] },
  { title: 'Plot7 : TCR - αβT', f: [308, 978], p: [45, 25, 222, 236], grain: true, xt: ['CD8-APCCy7-A'], yt: ['TRBC1-PE-A'], xa: xCD8, ya: yTRBC, xz: 27, yz: 19.8, clouds: p7Clouds, dots: p7Dots, mid: p7Mid, hot: p7Hot, rects: [[5.9, 88.6, 65.1, 85.8, '#f03a3a'], [55.8, 82.7, 5.5, 93.8, '#2a2af0']], labs: [['αβT TRBC1+', '34.25%', C.red, 375, 1020], ['αβT T8+', '39.37%', C.blue, 521, 1216]] },
  { title: 'Plot11 : TCR - αβT T8+', f: [603, 980], p: [46, 25, 223, 235], xt: ['CD57-FITC-A'], yt: ['CD279-APC-A'], xa: xCD57, ya: yCD279, xz: 26, yz: 29, clouds: p11Clouds, dots: p11Dots, mid: p11Mid, hot: p11Hot, quad: [43, 39.3, '#f5b74a', '#9ccb3a', '#f05858', '#f05858'], labs: [['αβT T8 CD279+', '23.46%', C.rust, 655, 1023], ['αβT T8 CD57+ CD279+', '1.00%', C.blue, 728, 1062], ['G14-3', '65.71%', C.green, 673, 1206], ['αβT T8 CD57+', '9.84%', C.red, 779, 1206]] },
  { title: 'Plot9 : TCR - αβT T8+', f: [12, 1299], p: [46, 24, 224, 238], grain: true, xt: ['CD56-KromeOrange-A'], yt: ['TRBC1-PE-A'], xa: xCD56, ya: yTRBC, xz: 16, yz: 19.6, clouds: p9Clouds, dots: p9Dots, mid: p9Mid, hot: p9Hot, rects: [[14.2, 80.4, 60, 83.2, '#a040a8'], [32.4, 76.6, 15.8, 93.7, '#e88a4a']], labs: [['αβT8 TRBC1+', '30.31%', C.purple, 62, 1340], ['αβT8 CD56+', '10.78%', C.rust, 186, 1532]] },
  { title: 'Plot12 : TCR - G15', f: [309, 1299], p: [45, 25, 224, 238], xt: ['CD56-KromeOrange-A'], yt: ['CD3-Percp-A'], xa: xCD56, ya: yCD3, xz: 16, yz: 20.6, clouds: p12Clouds, dots: p12Dots, polys: [[p12Gate, '#2f9a3c']], labs: [['NK', '1.06%', C.green, 517, 1458]] },
  { title: 'Plot13 : TCR - NK', f: [603, 1299], p: [46, 25, 224, 238], grain: true, xt: ['CD57-FITC-A'], yt: ['CD279-APC-A'], xa: [[0, '-10', '3.1'], [22.6, '-10', '2'], [49.9, '10', '3'], [71.4, '10', '4'], [89.9, '10', '5']], ya: yCD279, xz: 26, yz: 29, clouds: p13Clouds, dots: p13Dots, mid: p13Mid, hot: p13Hot, quad: [46.3, 35.3, '#f07078', '#b070c8', '#3a3af0', '#a040a8'], labs: [['NK CD279+', '0.95%', C.rust, 674, 1340], ['NK CD57+ CD279+', '0.26%', C.green, 753, 1340], ['G16-3', '94.66%', C.orange, 674, 1527], ['NK CD57+', '4.14%', C.purple, 804, 1527]] },
];

const FW = 284, FH = 310;
const pts = (f: number[]) => { const o: any[] = []; for (let i = 0; i + 1 < f.length; i += 2) o.push({ x: f[i], y: f[i + 1] }); return o; };
const closed = (f: number[]) => pts([...f, f[0], f[1]]);

// minor tick marks of the channel scale
function minorTicks(major: any[], zero: number | undefined, step: number | undefined, end: number) {
  const out: number[] = [];
  if (step) { for (let v = step; v < end; v += step) out.push(Math.round(v * 100) / 100); return out; }
  const dec = major.filter((m) => m[1] === '10').map((m) => m[0]);
  if (!dec.length || zero === undefined) return out;
  const lg = [2, 3, 4, 5, 6, 7, 8, 9].map((k) => Math.log10(k));
  dec.forEach((d: number, i: number) => {
    const w = i + 1 < dec.length ? dec[i + 1] - d : d - dec[i - 1];
    lg.forEach((l) => { if (d + w * l < end) out.push(d + w * l); });
  });
  const a = dec[0] - zero;
  [1, 2, 3, 4, 5, 6, 7, 8, 9].forEach((k) => {
    const s = a * Math.pow(k / 10, 0.8);
    out.push(zero + s);
    if (zero - s > 0) out.push(zero - s);
  });
  return out;
}

const TXT = '#444';
const FONT = '"Liberation Sans", Arial, sans-serif';
const LABEL_FONT = '"Noto Sans", sans-serif';

function makeXTick(major: any[], bottom: number) {
  return (p: any) => {
    const m = major.find((e) => e[0] === p.payload.value);
    const x = p.x;
    return (
      <g>
        <line x1={x} x2={x} y1={bottom} y2={bottom + (m ? 5 : 2.5)} stroke="#666" strokeWidth={0.8} />
        {m && (
          <text x={x + (m[0] === 0 && m[2] ? 6 : 0)} y={bottom + 20} textAnchor="middle" fontSize={12} fontFamily={FONT} fill={TXT}>
            {m[1]}
            {m[2] && <tspan dx={2} dy={-3} fontSize={12}>{m[2]}</tspan>}
          </text>
        )}
      </g>
    );
  };
}
function makeYTick(major: any[], left: number) {
  return (p: any) => {
    const m = major.find((e) => e[0] === p.payload.value);
    const y = p.y;
    const cy = y - (m && m[0] === 0 && m[2] ? 9 : 0);
    const bx = left - 12;
    return (
      <g>
        <line x1={left} x2={left - (m ? 5 : 2.5)} y1={y} y2={y} stroke="#666" strokeWidth={0.8} />
        {m && (
          <text transform={`rotate(-90 ${bx} ${cy})`} x={bx} y={cy} textAnchor="middle" fontSize={12} fontFamily={FONT} fill={TXT}>
            {m[1]}
            {m[2] && <tspan dx={1} dy={-1} fontSize={12}>{m[2]}</tspan>}
          </text>
        )}
      </g>
    );
  };
}
const noShape = () => <g />;
const dotShape = (fill: string) => (p: any) => <rect x={p.cx - 0.6} y={p.cy - 0.6} width={1.2} height={1.2} fill={fill} />;

// a smooth closed outline through the scaled points
function smoothPath(src: any[]) {
  const a = src.slice(0, -1);
  const n = a.length;
  let d = `M${a[0].x},${a[0].y}`;
  for (let i = 0; i < n; i++) {
    const p0 = a[(i - 1 + n) % n], p1 = a[i], p2 = a[(i + 1) % n], p3 = a[(i + 2) % n];
    d += `C${p1.x + (p2.x - p0.x) / 6},${p1.y + (p2.y - p0.y) / 6} ${p2.x - (p3.x - p1.x) / 6},${p2.y - (p3.y - p1.y) / 6} ${p2.x},${p2.y}`;
  }
  return d + 'Z';
}
const cloudFilter = (level: number, grain: boolean) => {
  if (level === 7) return 'url(#fThin)';
  if (level === 6) return 'url(#fVeil)';
  if (grain) return 'url(#fMix)';
  return level === 0 ? 'url(#fWide)' : 'url(#fEdge)';
};
const cloudLine = (level: number, grain: boolean) => (p: any) => (
  <path d={smoothPath(p.points)} fill={HEAT[level]} stroke="none" style={{ filter: cloudFilter(level, grain) }} />
);

function Textures() {
  const noise = <feTurbulence type="fractalNoise" baseFrequency="0.85" numOctaves={2} seed={4} result="n" />;
  const stipple = (id: string, c: number, scale: number) => (
    <filter id={id} x="-25%" y="-25%" width="150%" height="150%" colorInterpolationFilters="sRGB">
      {noise}
      <feColorMatrix in="n" type="matrix" values={`0 0 0 0 0  0 0 0 0 0  0 0 0 0 0  24 0 0 0 ${c}`} result="m" />
      <feDisplacementMap in="SourceGraphic" in2="n" scale={scale} xChannelSelector="G" yChannelSelector="B" result="d" />
      <feComposite in="d" in2="m" operator="in" />
    </filter>
  );
  const edge = (id: string, scale: number) => (
    <filter id={id} x="-25%" y="-25%" width="150%" height="150%" colorInterpolationFilters="sRGB">
      {noise}
      <feDisplacementMap in="SourceGraphic" in2="n" scale={scale} xChannelSelector="G" yChannelSelector="B" />
    </filter>
  );
  return (
    <svg width={0} height={0} style={{ position: 'absolute' }}>
      <defs>
        {stipple('fThin', -15.6, 14)}
        {stipple('fVeil', -13.6, 14)}
        {stipple('fMix', -11.6, 12)}
        {edge('fWide', 22)}
        {edge('fEdge', 14)}
      </defs>
    </svg>
  );
}

function Axisword({ parts, ...rest }: any) {
  return (
    <text {...rest} textAnchor="middle" fontSize={12} fontFamily={FONT} fill={TXT} style={{ whiteSpace: 'pre' }}>
      {parts[0]}
      {parts[1] && <tspan dx={3} dy={-4}>{parts[1]}</tspan>}
      {parts[2] && <tspan dx={3} dy={4}>{parts[2]}</tspan>}
    </text>
  );
}
const iconDots = [6,12,8,10,10,11,9,7,11,8,13,9,12,5,14,6,15,3,5,15,7,14,4,17,3,19,10,13,12,11,14,4,11,5];
function Panel({ d }: any) {
  const [fx, fy] = d.f;
  const [l, t, w, h] = d.p;
  const xd = d.xd || [0, 100];
  const yd = d.yd || [0, 100];
  const xTicks = [...d.xa.map((m: any) => m[0]), ...minorTicks(d.xa, d.xz, d.xm, xd[1])];
  const yTicks = [...d.ya.map((m: any) => m[0]), ...minorTicks(d.ya, d.yz, d.ym, yd[1])];
  const q = d.quad;
  return (
    <div style={{ position: 'absolute', left: fx, top: fy, width: FW, height: FH }}>
      <div style={{ position: 'absolute', inset: 0, boxSizing: 'border-box', borderTop: '2px solid #c8c8c8', borderLeft: '2px solid #c8c8c8', borderRight: '2px solid #a0a0a0', borderBottom: '2px solid #a0a0a0' }} />
      <div style={{ position: 'absolute', left: 0, top: 0 }}>
        <ScatterChart width={FW} height={FH} margin={{ top: t, right: FW - l - w, left: 0, bottom: 0 }}>
          <XAxis type="number" dataKey="x" domain={xd} ticks={xTicks} interval={0} height={FH - t - h} tickLine={false} axisLine={{ stroke: '#666' }} tick={makeXTick(d.xa, t + h)} allowDataOverflow />
          <YAxis type="number" dataKey="y" domain={yd} ticks={yTicks} interval={0} width={l} tickLine={false} axisLine={{ stroke: '#666' }} tick={makeYTick(d.ya, l)} allowDataOverflow />
          {d.clouds.map((c: any, i: number) => (
            <Scatter key={'c' + i} data={closed(c[1])} isAnimationActive={false} shape={noShape} line={cloudLine(c[0], !!d.grain)} lineType="joint" />
          ))}
          <Scatter data={pts(d.dots)} isAnimationActive={false} shape={dotShape('#3b3fa0')} />
          {d.mid && <Scatter data={pts(d.mid)} isAnimationActive={false} shape={dotShape('#1f9e70')} />}
          {d.hot && <Scatter data={pts(d.hot)} isAnimationActive={false} shape={dotShape('#f09a10')} />}
          <ReferenceArea x1={xd[0]} x2={xd[1]} y1={yd[0]} y2={yd[1]} fill="none" stroke="#666" strokeWidth={1} ifOverflow="visible" />
          {q && <ReferenceLine segment={[{ x: q[0], y: q[1] }, { x: q[0], y: 100 }]} stroke={q[2]} strokeWidth={1.3} />}
          {q && <ReferenceLine segment={[{ x: q[0], y: 0 }, { x: q[0], y: q[1] }]} stroke={q[3]} strokeWidth={1.3} />}
          {q && <ReferenceLine segment={[{ x: 0, y: q[1] }, { x: q[0], y: q[1] }]} stroke={q[4]} strokeWidth={1.3} />}
          {q && <ReferenceLine segment={[{ x: q[0], y: q[1] }, { x: 100, y: q[1] }]} stroke={q[5]} strokeWidth={1.3} />}
          {(d.rects || []).map((r: any, i: number) => (
            <ReferenceArea key={'r' + i} x1={r[0]} x2={r[1]} y1={r[2]} y2={r[3]} fill="none" stroke={r[4]} strokeWidth={1.3} ifOverflow="visible" />
          ))}
          {(d.polys || []).map((g: any, i: number) => (
            <Scatter key={'g' + i} data={closed(g[0])} isAnimationActive={false} shape={noShape} line={{ stroke: g[1], strokeWidth: 1.2 }} lineType="joint" />
          ))}
        </ScatterChart>
      </div>
      <svg width={FW} height={FH} style={{ position: 'absolute', left: 0, top: 0, pointerEvents: 'none' }}>
        <g>
          {pts(iconDots).map((o, i) => (
            <rect key={i} x={o.x + 3} y={o.y + 2} width={1.6} height={1.6} fill={i === 8 || i === 16 ? '#39b54a' : '#2d5fb8'} />
          ))}
        </g>
        <text x={FW / 2} y={16} textAnchor="middle" fontSize={13.5} fontFamily={LABEL_FONT} fill="#3a3a3a">{d.title}</text>
        <Axisword parts={d.xt} x={l + w / 2} y={FH - 6} />
        <g transform={`rotate(-90 15 ${t + h / 2})`}>
          <Axisword parts={d.yt} x={15} y={t + h / 2} />
        </g>
        {d.labs.map((b: any, i: number) => (
          <g key={i} fontFamily={LABEL_FONT} fontSize={13} fill={b[2]}>
            <text x={b[3] - fx} y={b[4] - fy}>{b[0]}</text>
            <text x={b[3] - fx} y={b[4] - fy + 16}>{b[1]}</text>
          </g>
        ))}
      </svg>
    </div>
  );
}

export default function App() {
  return (
    <div style={{ position: 'absolute', left: 0, top: 0, width: 900, height: 1618, background: '#fff', overflow: 'hidden' }}>
      <Textures />
      {panels.map((d) => <Panel key={d.title} d={d} />)}
    </div>
  );
}
